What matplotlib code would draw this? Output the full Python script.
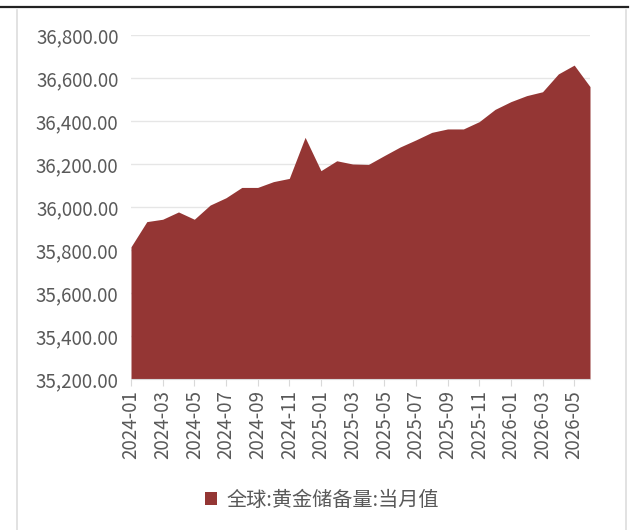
import matplotlib.pyplot as plt
from matplotlib.lines import Line2D

plt.rcParams['font.family'] = ['Noto Sans CJK SC', 'DejaVu Sans']

months = ['2024-01', '2024-02', '2024-03', '2024-04', '2024-05', '2024-06',
          '2024-07', '2024-08', '2024-09', '2024-10', '2024-11', '2024-12',
          '2025-01', '2025-02', '2025-03', '2025-04', '2025-05', '2025-06',
          '2025-07', '2025-08', '2025-09', '2025-10', '2025-11', '2025-12',
          '2026-01', '2026-02', '2026-03', '2026-04', '2026-05', '2026-06']
reserves = [35815, 35932, 35943, 35977, 35943, 36009,
            36043, 36091, 36091, 36118, 36133, 36324,
            36169, 36215, 36200, 36198, 36239, 36279,
            36312, 36347, 36363, 36363, 36397, 36454,
            36490, 36518, 36536, 36619, 36660, 36560]
series_name = '全球:黄金储备量:当月值'

yticks = [35200, 35400, 35600, 35800, 36000, 36200, 36400, 36600, 36800]

fill_color = '#943634'
text_color = '#595959'
grid_color = '#e6e6e6'

fig = plt.figure(figsize=(6.35, 5.30), dpi=100)
ax = fig.add_axes([131 / 635, 151 / 530, 459 / 635, 344 / 530])

x = list(range(len(months)))
ax.fill_between(x, yticks[0], reserves, color=fill_color, linewidth=0,
                label=series_name)

ax.set_xlim(0, len(months) - 1)
ax.set_ylim(yticks[0], yticks[-1])
ax.set_yticks(yticks)
ax.set_yticklabels([f'{v:,.2f}' for v in yticks])
ax.set_xticks(x[::2])
ax.set_xticklabels(months[::2], rotation=90)

ax.grid(axis='y', color=grid_color, linewidth=1)
ax.set_axisbelow(True)
for side in ['top', 'right', 'left']:
    ax.spines[side].set_visible(False)
ax.spines['bottom'].set_color('#d9d9d9')
ax.spines['bottom'].set_zorder(3)
ax.tick_params(axis='y', length=0, pad=9, labelsize=13.5, labelcolor=text_color)
ax.tick_params(axis='x', length=5, color='#d9d9d9', pad=3, labelsize=13.5,
               labelcolor=text_color)

fig.legend(loc='center', bbox_to_anchor=(0.507, 30 / 530), frameon=False,
           fontsize=14.5, handlelength=0.6, handleheight=0.6, handletextpad=0.5,
           labelcolor=text_color)

# frame bits around the panel
fig.add_artist(Line2D([0, 628 / 635], [1 - 7 / 530, 1 - 7 / 530],
                      color='#222222', linewidth=1.6))
for xv in [17 / 635, 626 / 635]:
    fig.add_artist(Line2D([xv, xv], [0, 1 - 10 / 530], color='#dddddd',
                          linewidth=1.2))

fig.savefig('out.png', dpi=100)
